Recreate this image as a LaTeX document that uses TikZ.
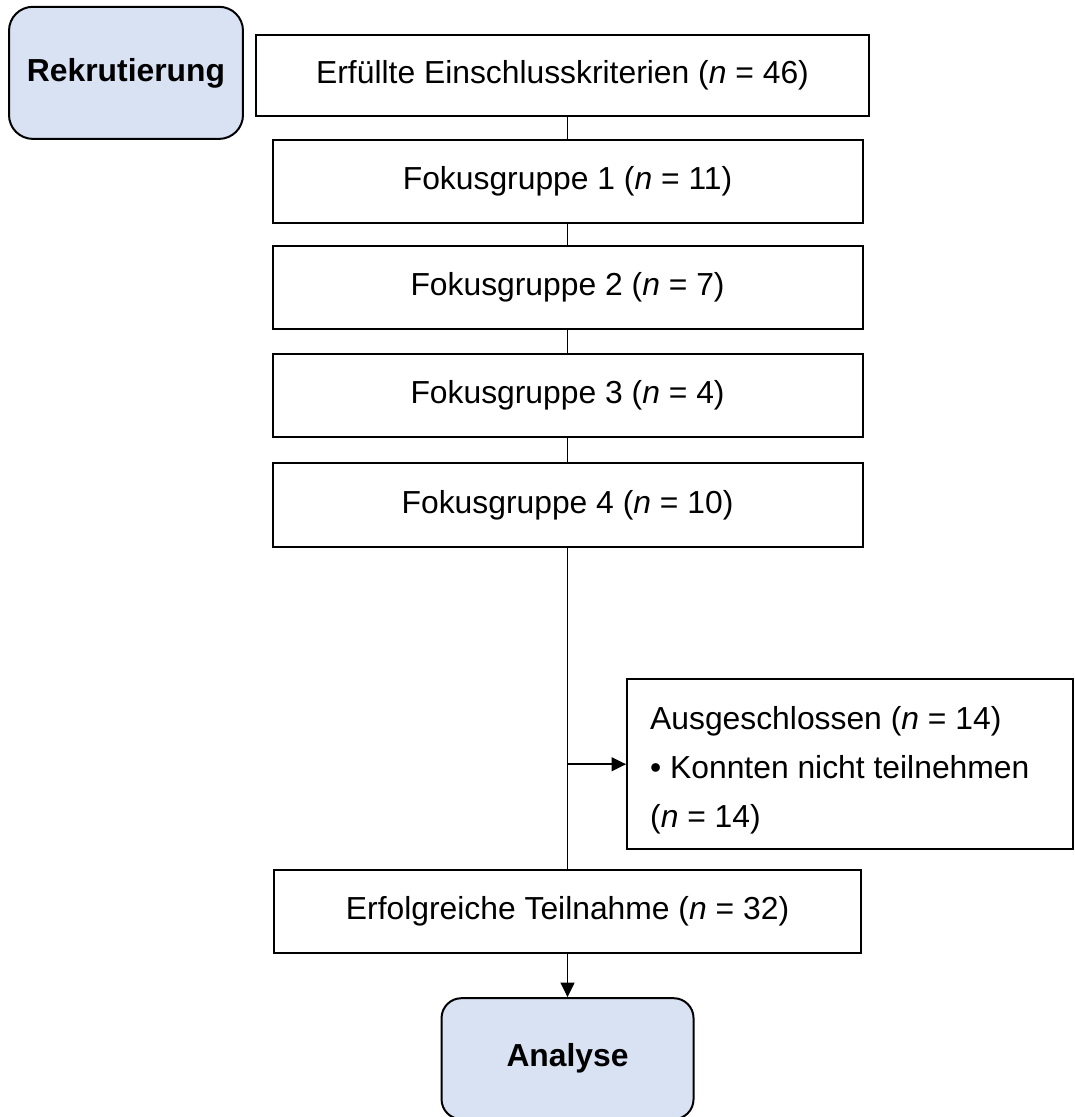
\documentclass[tikz,border=0pt]{standalone}
\usepackage{fontspec}
\setmainfont{Liberation Sans}
\usetikzlibrary{shapes.geometric, arrows.meta}
\definecolor{phasefill}{HTML}{D9E2F3}
\tikzstyle{phase} = [rectangle, rounded corners=9pt, minimum width=88.2pt, minimum height=49.8pt, text centered, draw=black, line width=0.75pt, fill=phasefill]
\tikzstyle{process} = [rectangle, minimum width=222.4pt, minimum height=31.5pt, text centered, draw=black, line width=0.75pt, fill=white]
\tikzstyle{exclude} = [rectangle, minimum width=168.1pt, minimum height=64.1pt, text width=150.7pt, inner xsep=8.7pt, align=flush left, draw=black, line width=0.75pt, fill=white]
\tikzstyle{link} = [line width=0.65pt]
\tikzstyle{arrow} = [line width=0.65pt, -{Triangle[length=5.5pt, width=5.2pt]}]

\begin{document}
\begin{tikzpicture}[node distance = 40pt, font = \fontsize{12}{14.4}\selectfont]
\useasboundingbox (0,0) rectangle (404.9pt,-421.1pt);
\node (crit) [process, minimum width = 231.1pt, minimum height = 30.5pt] at (212.06pt,-28.46pt) {Erfüllte Einschlusskriterien (\textit{n} = 46)};
\node (rek) [phase, left of = crit, xshift = -124.56pt, yshift = 1pt] {\textbf{Rekrutierung}};
\node (fg1) [process, below of = crit, xshift = 1.9pt] {Fokusgruppe 1 (\textit{n} = 11)};
\node (fg2) [process, below of = fg1] {Fokusgruppe 2 (\textit{n} = 7)};
\node (fg3) [process, below of = fg2, yshift = -0.7pt] {Fokusgruppe 3 (\textit{n} = 4)};
\node (fg4) [process, below of = fg3, yshift = -1.3pt] {Fokusgruppe 4 (\textit{n} = 10)};
\node (succ) [process, below of = fg4, yshift = -113.25pt, minimum width = 221.3pt, minimum height = 31.3pt] {Erfolgreiche Teilnahme (\textit{n} = 32)};
\node (excl) [exclude, right of = succ, xshift = 66.5pt, yshift = 55.6pt] {\rule{0pt}{13.4pt}Ausgeschlossen (\textit{n} = 14)\\[4.1pt] •~Konnten nicht teilnehmen\\[4.1pt] (\textit{n} = 14)};
\node (ana) [phase, below of = succ, yshift = -15.4pt, minimum width = 95pt, minimum height = 45.6pt, rounded corners = 7.5pt] {\textbf{Analyse}};
\coordinate (split) at (succ.north |- excl.west);
\draw [link] (fg1.north |- crit.south) -- (fg1.north);
\draw [link] (fg1) -- (fg2);
\draw [link] (fg2) -- (fg3);
\draw [link] (fg3) -- (fg4);
\draw [link] (fg4) -- (succ);
\draw [arrow] (split) -- (excl.west);
\draw [arrow] (succ) -- (ana);
\end{tikzpicture}
\end{document}
